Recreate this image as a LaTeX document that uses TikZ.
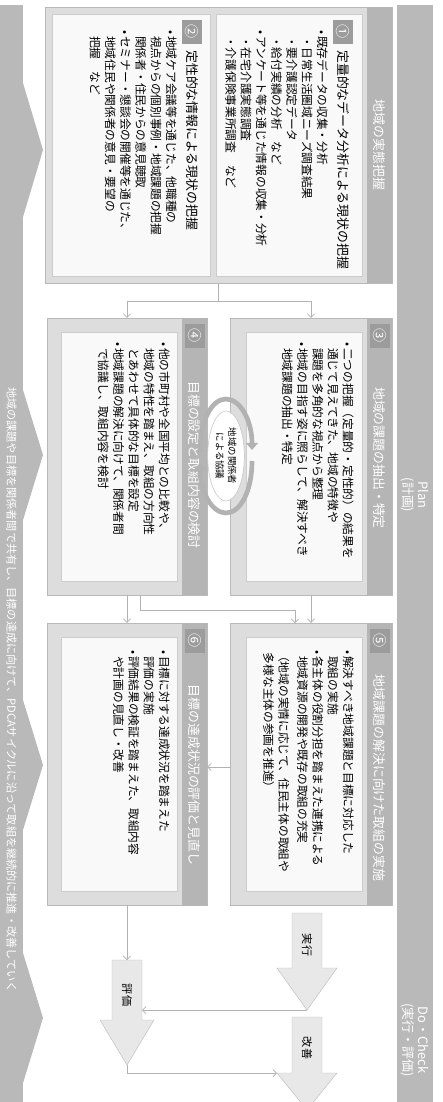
\documentclass[tikz,border=0pt]{standalone}
\usepackage{fontspec}
\setmainfont{Noto Sans CJK JP}
\usetikzlibrary{arrows.meta,fit,shapes.geometric}
\newcommand{\mybul}{•\,}
\newcommand{\myind}{\hphantom{•\,}}
\begin{document}
\begin{tikzpicture}[x=0.03cm,y=-0.03cm,
  band/.style={fill=gray!55,draw=none},
  boxframe/.style={fill=gray!27,draw=gray!55,line width=0.4pt,inner sep=0pt},
  boxpanel/.style={fill=gray!5,draw=gray!40,line width=0.3pt,inner sep=0pt},
  hdr/.style={fill=gray!58,draw=none},
  badge/.style={fill=gray!78,text=white,minimum width=0.6cm,minimum height=0.72cm,inner sep=0pt,font=\fontsize{12}{12}\selectfont},
  bodytxt/.style={rotate=-90,anchor=north west,inner sep=0pt,align=left,font=\fontsize{10}{13}\selectfont},
  htitle/.style={rotate=-90,inner sep=0pt,text=white,font=\fontsize{11}{13}\selectfont},
  stitle/.style={rotate=-90,anchor=west,inner sep=0pt,font=\fontsize{11}{13}\selectfont},
  conn/.style={draw=gray!60,line width=0.6pt,-{Straight Barb[length=3pt,width=6pt]}},
  cyc/.style={draw=gray!60,line width=4pt,-{Triangle[length=6pt,width=10pt]}},
  blk/.style={fill=gray!18,draw=gray!50,line width=0.4pt},
  blktxt/.style={rotate=-90,inner sep=0pt,font=\fontsize{9.5}{10}\selectfont},
  bandtxt/.style={rotate=-90,inner sep=0pt,text=white,align=center,font=\fontsize{11}{13}\selectfont}
]
\useasboundingbox (0,0) rectangle (442,1102);
\fill[white] (0,0) rectangle (442,1102);

% side bands
\fill[band] (0,5) rectangle (23,1102);
\fill[band] (23,83) -- (43,150) -- (23,217) -- cycle;
\fill[band] (23,390) -- (43,455) -- (23,520) -- cycle;
\fill[band] (23,700) -- (43,765) -- (23,830) -- cycle;
\fill[band] (23,953) -- (43,1018) -- (23,1083) -- cycle;
\fill[band] (397,5) rectangle (433,1102);
\node[bandtxt] (plan) at (415,495) {Plan\\(計画)};
\node[bandtxt] (dochk) at (415,1040) {Do・Check\\(実行・評価)};
\node[bandtxt,font=\fontsize{9.5}{11}\selectfont] (lbt) at (11.5,690) {地域の課題や目標を関係者間で共有し、目標の達成に向けて、PDCAサイクルに沿って取組を継続的に推進・改善していく};

% top box (1)(2)
\node[boxframe, fit={(45,7) (392,283)}] (top) {};
\fill[hdr] (367,7) rectangle (392,283);
\node[htitle] (toptitle) at (379.5,145) {地域の実態把握};
\node[boxpanel, fit={(216,14) (362,276)}] (s1) {};
\node[boxpanel, fit={(52,14) (210,276)}] (s2) {};
\node[badge] (bd1) at (343,32) {\rotatebox{-90}{①}};
\node[badge] (bd2) at (192,32) {\rotatebox{-90}{②}};
\node[stitle] (t1) at (343,50) {定量的なデータ分析による現状の把握};
\node[stitle] (t2) at (192,50) {定性的な情報による現状の把握};
\node[bodytxt] (c1) at (328,30) {\mybul 既存データの収集・分析\\
\myind ・日常生活圏域ニーズ調査結果\\
\myind ・要介護認定データ\\
\myind ・給付実績の分析　など\\
\mybul アンケート等を通じた情報の収集・分析\\
\myind ・在宅介護実態調査\\
\myind ・介護保険事業所調査　など};
\node[bodytxt] (c2) at (177,30) {\mybul 地域ケア会議等を通じた、他職種の\\
\myind 視点からの個別事例・地域課題の把握\\
\myind 関係者・住民からの意見聴取\\
\mybul セミナー・懇談会の開催等を通じた、\\
\myind 地域住民や関係者の意見・要望の\\
\myind 把握　など};

% box (3)
\node[boxframe, fit={(230,318) (392,595)}] (b3) {};
\fill[hdr] (367,318) rectangle (392,595);
\node[boxpanel, fit={(246,332) (362,581)}] (p3) {};
\node[badge] (bd3) at (379.5,336) {\rotatebox{-90}{③}};
\node[htitle] (t3) at (379.5,458) {地域の課題の抽出・特定};
\node[bodytxt] (c3) at (354,342) {\mybul 二つの把握（定量的・定性的）の結果を\\
\myind 通じて見えてきた、地域の特徴や\\
\myind 課題を多角的な視点から整理\\
\mybul 地域の目指す姿に照らして、解決すべき\\
\myind 地域課題の抽出・特定};

% box (4)
\node[boxframe, fit={(47,318) (207,595)}] (b4) {};
\fill[hdr] (182,318) rectangle (207,595);
\node[boxpanel, fit={(61,332) (177,581)}] (p4) {};
\node[badge] (bd4) at (194.5,336) {\rotatebox{-90}{④}};
\node[htitle] (t4) at (194.5,465) {目標の設定と取組内容の検討};
\node[bodytxt] (c4) at (170,342) {\mybul 他の市町村や全国平均との比較や、\\
\myind 地域の特性を踏まえ、取組の方向性\\
\myind とあわせて具体的な目標を設定\\
\mybul 地域課題の解決に向けて、関係者間\\
\myind で協議し、取組内容を検討};

% box (5)
\node[boxframe, fit={(230,623) (392,905)}] (b5) {};
\fill[hdr] (367,623) rectangle (392,905);
\node[boxpanel, fit={(246,637) (362,891)}] (p5) {};
\node[badge] (bd5) at (379.5,641) {\rotatebox{-90}{⑤}};
\node[htitle] (t5) at (379.5,778) {地域課題の解決に向けた取組の実施};
\node[bodytxt] (c5) at (354,650) {\mybul 解決すべき地域課題と目標に対応した\\
\myind 取組の実施\\
\mybul 各主体の役割分担を踏まえた連携による\\
\myind 地域資源の開発や既存の取組の充実\\[3pt]
（地域の実情に応じて、住民主体の取組や\\
\ 多様な主体の参画を推進）};

% box (6)
\node[boxframe, fit={(47,623) (207,905)}] (b6) {};
\fill[hdr] (182,623) rectangle (207,905);
\node[boxpanel, fit={(61,637) (177,891)}] (p6) {};
\node[badge] (bd6) at (194.5,641) {\rotatebox{-90}{⑥}};
\node[htitle] (t6) at (194.5,775) {目標の達成状況の評価と見直し};
\node[bodytxt] (c6) at (170,650) {\mybul 目標に対する達成状況を踏まえた\\
\myind 評価の実施\\
\mybul 評価結果の検証を踏まえた、取組内容\\
\myind や計画の見直し・改善};

% centre ellipse with cycle arrows
\node[ellipse, fill=white, draw=gray!50, line width=0.4pt, minimum width=1.1cm, minimum height=2.7cm, inner sep=0pt] (ell) at (226,456)
  {\rotatebox{-90}{\fontsize{8}{9.5}\selectfont\shortstack{地域の関係者\\による協議}}};
\draw[cyc] (200,452) .. controls (200,420) and (212,399) .. (226,399) .. controls (240,399) and (252,420) .. (252,450);
\draw[cyc] (252,461) .. controls (252,492) and (240,513) .. (226,513) .. controls (212,513) and (200,492) .. (200,463);

% connectors between boxes
\draw[conn] (top.south) -- ++(0,18) -| (b4.north);
\draw[conn] (top.south) -- ++(0,18) -| (b3.north);
\draw[conn] (b3.south) -- (b5.north);
\draw[conn] (b4.south) -- (b6.north);
\coordinate (k1) at (140,595);
\coordinate (k2) at (295,623);
\draw[conn] (k1) -- (140,610) -| (k2);
\coordinate (y767) at (0,767);
\draw[conn] (b5.west |- y767) -- (b6.east |- y767);

% block arrows
\filldraw[blk] (292,913) -- (322,913) -- (322,968) -- (337,968) -- (307,1010) -- (277,968) -- (292,968) -- cycle;
\node[blktxt] (ra1) at (307,945) {実行};
\filldraw[blk] (112,960) -- (142,960) -- (142,1020) -- (154,1020) -- (127,1065) -- (100,1020) -- (112,1020) -- cycle;
\node[blktxt] (la1) at (127,995) {評価};
\filldraw[blk] (292,1017) -- (322,1017) -- (322,1073) -- (337,1073) -- (307,1110) -- (277,1073) -- (292,1073) -- cycle;
\node[blktxt] (ra2) at (307,1048) {改善};
\coordinate (laTop) at (127,960);
\coordinate (laSide) at (142,1010);
\coordinate (laTip) at (127,1065);
\coordinate (raTip) at (307,1010);
\coordinate (rbIn) at (277,1073);
\draw[conn] (b6.south) -- (laTop);
\draw[conn] (raTip) -- (laSide);
\draw[conn] (laTip) |- (rbIn);
\end{tikzpicture}
\end{document}
